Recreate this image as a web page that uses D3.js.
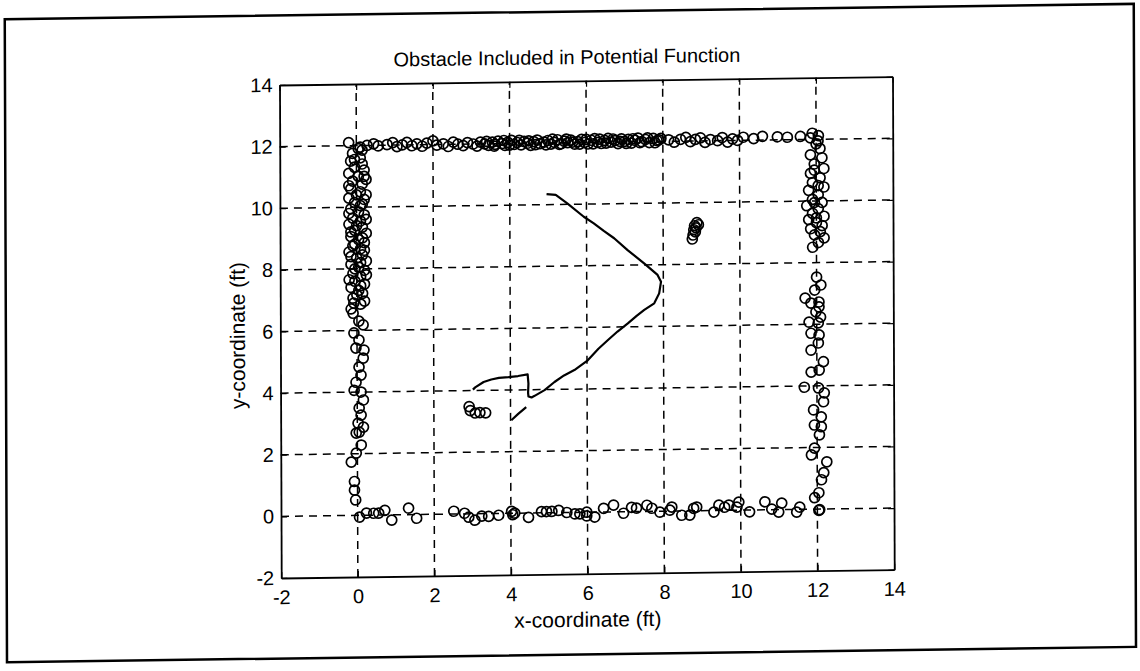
<!DOCTYPE html>
<html><head><meta charset="utf-8">
<script src="https://cdn.jsdelivr.net/npm/d3@7"></script>
<style>
html,body{margin:0;padding:0;background:#fff;}
text{font-family:Arial,"Liberation Sans",sans-serif;fill:#000;}
</style></head>
<body>
<svg id="chart" width="1140" height="671"></svg>
<script>
// ---------- data ----------
const chartTitle = "Obstacle Included in Potential Function";
const xLabel = "x-coordinate (ft)";
const yLabel = "y-coordinate (ft)";
const xTicks = [-2, 0, 2, 4, 6, 8, 10, 12, 14];
const yTicks = [-2, 0, 2, 4, 6, 8, 10, 12, 14];

// sonar returns: left wall (x ~ 0)
const leftWall = [
[-0.2,12.1],[0.05,11.9],[-0.1,11.75],[0.1,11.6],[-0.15,11.5],[0.15,11.4],[-0.05,11.3],[0.2,11.2],
[-0.2,11.1],[0.05,11.0],[0.25,10.9],[-0.1,10.85],[0.15,10.75],[-0.15,10.6],[0.1,10.5],[0.25,10.4],
[-0.2,10.3],[0.2,10.25],[-0.05,10.15],[0.1,10.05],[-0.15,9.95],[0.05,9.85],[0.2,9.75],[-0.1,9.65],
[0.1,9.55],[-0.2,9.45],[0.15,9.35],[-0.05,9.25],[0.25,9.15],[-0.15,9.05],[0.05,8.95],[0.2,8.85],
[-0.1,8.75],[0.1,8.65],[-0.2,8.55],[0.15,8.45],[0.0,8.35],[0.25,8.25],[-0.15,8.15],[0.05,8.05],
[0.2,7.95],[-0.1,7.85],[0.1,7.75],[-0.05,7.6],[0.2,7.5],[-0.15,7.4],[0.05,7.3],[0.15,7.2],[-0.1,7.05],
[0.15,11.85],[-0.05,11.55],[0.2,11.0],[-0.2,10.7],[0.0,10.4],[0.15,10.1],[-0.2,9.8],[0.25,9.6],
[0.0,9.4],[-0.15,9.2],[0.15,9.0],[-0.05,8.8],[0.2,8.6],[-0.15,8.4],[0.1,8.2],[-0.05,8.0],
[0.25,7.8],[-0.2,7.65],[0.1,7.45],[0.0,7.15],[0.2,6.95],[-0.15,6.7],
[-0.08,6.89],[0.1,6.85],[-0.1,6.56],[0.05,6.3],[0.16,6.18],[-0.08,5.92],[0.05,5.69],[-0.03,5.43],
[0.18,5.36],[0.16,5.1],[0.05,4.81],[0.1,4.55],[-0.03,4.32],[-0.08,4.06],[0.1,4.0],[0.16,3.74],
[0.05,3.48],[0.1,3.25],[0.02,2.99],[0.16,2.86],[0.05,2.7],[-0.03,2.67],[0.1,2.28],[-0.03,2.02],
[-0.16,1.73],[-0.08,1.1],[-0.08,0.82],[-0.05,0.5]
];
// top wall (y ~ 12)
const topWall = [
[0.1,11.95],[0.28,12.0],[0.45,12.05],[0.57,11.98],[0.8,12.02],[0.95,12.08],[1.06,11.95],[1.2,12.0],
[1.32,12.08],[1.45,11.97],[1.58,12.03],[1.72,11.95],[1.84,12.05],[2.0,12.12],[2.1,11.98],[2.27,12.02],
[2.4,11.93],[2.53,12.07],[2.65,12.0],[2.79,11.95],[2.9,12.05],[3.05,12.0],[3.15,11.93],[3.24,12.06],
[3.35,12.0],[3.45,11.95],[3.55,12.05],[3.62,11.98],[3.7,12.08],[3.8,12.0],[3.88,11.94],[3.95,12.04],
[4.05,12.1],[4.12,11.97],[4.2,12.03],[4.3,11.95],[4.38,12.06],[4.47,12.0],[4.55,11.93],[4.63,12.05],
[4.72,12.1],[4.8,11.98],[4.9,12.03],[5.0,12.08],[5.08,11.96],[5.17,12.02],[5.25,12.1],[5.35,11.97],
[5.43,12.05],[5.52,12.0],[5.6,12.08],[5.7,11.95],[5.78,12.03],[5.88,12.1],[5.96,12.0],[6.05,11.95],
[6.13,12.07],[6.22,12.12],[6.3,12.0],[6.4,11.96],[6.48,12.06],[6.57,12.12],[6.65,12.0],[6.75,12.05],
[6.83,11.95],[6.92,12.1],[7.0,12.02],[7.1,12.08],[7.18,11.96],[7.27,12.05],[7.35,12.12],[7.45,12.0],
[7.55,12.07],[7.65,11.97],[7.75,12.1],[7.85,12.03],[7.95,12.1],
[3.4,12.08],[3.6,11.92],[3.85,12.1],[4.0,11.95],[4.25,12.1],[4.5,12.08],[4.68,11.95],[4.95,11.94],
[5.12,12.12],[5.3,11.95],[5.48,12.12],[5.65,12.02],[5.83,11.95],[6.0,12.1],[6.18,11.95],[6.35,12.1],
[6.52,11.97],[6.7,12.1],[6.88,12.02],[7.05,11.95],[7.22,12.1],[7.4,11.97],[7.6,12.12],[7.8,11.96],[7.9,12.05],
[8.15,12.05],[8.3,11.97],[8.46,12.06],[8.6,12.12],[8.72,11.98],[8.85,12.05],[8.98,12.1],[9.1,11.95],
[9.24,12.04],[9.43,12.0],[9.55,12.1],[9.69,11.95],[9.82,12.05],[9.95,12.0],[10.1,12.1],[10.37,12.05],
[10.6,12.12],[10.99,12.1],[11.25,12.08],[11.59,12.1],[11.85,12.05],[12.06,12.12]
];
// right wall (x ~ 12)
const rightWall = [
[11.9,12.2],[12.05,11.95],[12.1,11.7],[11.85,11.5],[12.15,11.4],[11.95,11.2],[12.2,11.05],[11.85,10.9],
[12.1,10.75],[11.9,10.6],[12.2,10.45],[11.8,10.35],[12.05,10.2],[11.9,10.05],[12.15,9.95],[11.75,9.85],
[12.05,9.75],[11.9,9.6],[12.2,9.5],[11.8,9.4],[12.0,9.3],[12.15,9.2],[11.85,9.1],[12.1,9.0],
[11.95,8.9],[12.2,8.8],[12.05,8.65],[11.9,8.5],[12.0,11.85],[11.95,11.0],[12.05,10.5],[11.95,9.95],[12.0,9.45],
[12.0,7.53],[12.11,7.27],[11.95,7.11],[11.7,6.85],[12.06,6.72],[11.98,6.4],[12.1,6.23],
[11.85,6.69],[12.06,6.56],[11.8,6.07],[12.04,6.04],[11.85,5.71],[12.06,5.65],[12.04,5.39],[11.85,5.16],
[12.17,4.78],[11.85,4.45],[12.06,4.51],[11.67,3.96],[12.04,3.93],[12.19,3.77],[12.17,3.48],[11.91,3.22],
[12.11,2.99],[11.93,2.73],[12.11,2.67],[12.06,2.41],[11.93,1.98],[11.85,1.76],[12.25,1.53],[12.17,1.18],
[12.11,0.95],[12.04,0.53],[11.93,0.37],[12.06,-0.02]
];
// bottom wall (y ~ 0)
const bottomWall = [
[0.05,-0.06],[0.23,0.07],[0.42,0.06],[0.55,0.06],[0.71,0.15],[0.89,-0.17],[1.33,0.21],[1.54,-0.12],
[2.51,0.09],[2.79,0.02],[2.9,-0.11],[3.06,-0.21],[3.24,-0.08],[3.42,-0.09],[3.68,-0.06],[4.02,0.06],
[4.1,0.0],[4.05,-0.05],[4.46,-0.14],[4.8,0.04],[4.93,0.04],[5.07,0.04],[5.25,0.07],[5.46,0.0],
[5.67,-0.05],[5.8,-0.05],[5.98,-0.12],[5.98,0.0],[6.19,-0.16],[6.42,0.12],[6.68,0.22],[6.94,-0.05],
[7.15,0.14],[7.28,0.11],[7.55,0.2],[7.68,0.1],[7.89,-0.03],[8.15,0.03],[8.2,0.13],[8.46,-0.14],
[8.67,-0.14],[8.77,0.08],[8.85,0.12],[9.3,-0.05],[9.43,0.17],[9.58,0.1],[9.69,0.17],[9.9,0.1],
[9.95,0.26],[10.23,-0.06],[10.63,0.26],[10.81,0.02],[11.07,0.21],[10.99,-0.08],[11.46,-0.09],
[11.54,0.07],[12.04,-0.04]
];
// obstacles
const obstacleA = [[8.88,9.35],[8.92,9.28],[8.82,9.25],[8.86,9.18],[8.8,9.12],[8.84,9.05],[8.78,8.95],[8.76,8.82]];
const obstacleB = [[2.92,3.48],[2.95,3.35],[3.08,3.27],[3.2,3.28],[3.35,3.27]];

// robot path (null = break in the line)
const pathX = [4.02,4.2,4.41, null,
  3.02,3.08,3.3,3.5,3.7,3.95,4.2,4.45,4.47,4.46,4.47,4.55,4.63,4.89,5.15,5.4,5.67,6.02,6.3,6.55,6.8,7.07,7.3,7.5,7.76,7.89,7.94,
  7.85,7.5,7.07,6.72,6.45,6.19,5.93,5.5,5.2,4.96];
const pathY = [3.02,3.22,3.44, null,
  4.03,4.1,4.27,4.35,4.4,4.42,4.45,4.5,4.2,3.9,3.78,3.75,3.8,3.98,4.24,4.45,4.62,4.93,5.3,5.58,5.85,6.11,6.35,6.54,6.75,7.07,7.45,
  7.67,8.05,8.49,8.88,9.12,9.37,9.59,10.03,10.31,10.34];

// ---------- layout ----------
const svg = d3.select("#chart");
const skewB = -0.0136, skewA = 0.0035, px0 = 280, py0 = 85;
const root = svg.append("g")
  .attr("transform", `matrix(1,${skewB},${skewA},1,${-skewA*py0},${-skewB*px0})`);

const L = 279.5, R = 892.5, T = 85, B = 578;
const x = d3.scaleLinear().domain([-2, 14]).range([L, R]);
const y = d3.scaleLinear().domain([-2, 14]).range([B, T]);

// outer frame
root.append("rect").attr("x", 5).attr("y", 15.5).attr("width", 1129).attr("height", 643)
  .attr("fill", "none").attr("stroke", "#000").attr("stroke-width", 2.5);

// grid
const grid = root.append("g").attr("stroke", "#000").attr("stroke-width", 1.5).attr("stroke-dasharray", "8,6");
grid.selectAll("line.gx").data(xTicks.slice(1, -1)).join("line")
  .attr("x1", d => x(d)).attr("x2", d => x(d)).attr("y1", B).attr("y2", T);
grid.selectAll("line.gy").data(yTicks.slice(1, -1)).join("line")
  .attr("y1", d => y(d)).attr("y2", d => y(d)).attr("x1", L).attr("x2", R);

// axes
const fmt = d => String(d);
const ax = root.append("g").attr("transform", `translate(0,${B})`)
  .call(d3.axisBottom(x).tickValues(xTicks).tickFormat(fmt).tickSizeInner(-6).tickSizeOuter(0).tickPadding(12));
const ay = root.append("g").attr("transform", `translate(${L},0)`)
  .call(d3.axisLeft(y).tickValues(yTicks).tickFormat(fmt).tickSizeInner(-6).tickSizeOuter(0).tickPadding(7));
root.append("g").attr("transform", `translate(0,${T})`)
  .call(d3.axisTop(x).tickValues(xTicks).tickFormat("").tickSizeInner(-6).tickSizeOuter(0));
root.append("g").attr("transform", `translate(${R},0)`)
  .call(d3.axisRight(y).tickValues(yTicks).tickFormat("").tickSizeInner(-6).tickSizeOuter(0));
root.selectAll(".domain").attr("stroke", "#000").attr("stroke-width", 1.8);
root.selectAll(".tick line").attr("stroke", "#000").attr("stroke-width", 1.2);
[ax, ay].forEach(g => g.selectAll("text").attr("font-size", 20).attr("font-family", 'Arial,"Liberation Sans",sans-serif').attr("fill", "#000"));

// path
const line = d3.line().defined((d, i) => pathX[i] !== null).x((d, i) => x(pathX[i])).y((d, i) => y(pathY[i]));
root.append("path").datum(pathX).attr("d", line)
  .attr("fill", "none").attr("stroke", "#000").attr("stroke-width", 2.2).attr("stroke-linejoin", "round");

// markers
const allPts = [].concat(leftWall, topWall, rightWall, bottomWall, obstacleA, obstacleB);
root.append("g").selectAll("circle").data(allPts).join("circle")
  .attr("cx", d => x(d[0])).attr("cy", d => y(d[1])).attr("r", 5)
  .attr("fill", "none").attr("stroke", "#000").attr("stroke-width", 1.7);

// labels
root.append("text").attr("x", 567).attr("y", 68).attr("text-anchor", "middle").attr("font-size", 20).text(chartTitle);
root.append("text").attr("x", (L + R) / 2).attr("y", 631).attr("text-anchor", "middle").attr("font-size", 21).text(xLabel);
root.append("text").attr("transform", `translate(244,335) rotate(-90)`).attr("text-anchor", "middle").attr("font-size", 21).text(yLabel);
</script>
</body></html>
